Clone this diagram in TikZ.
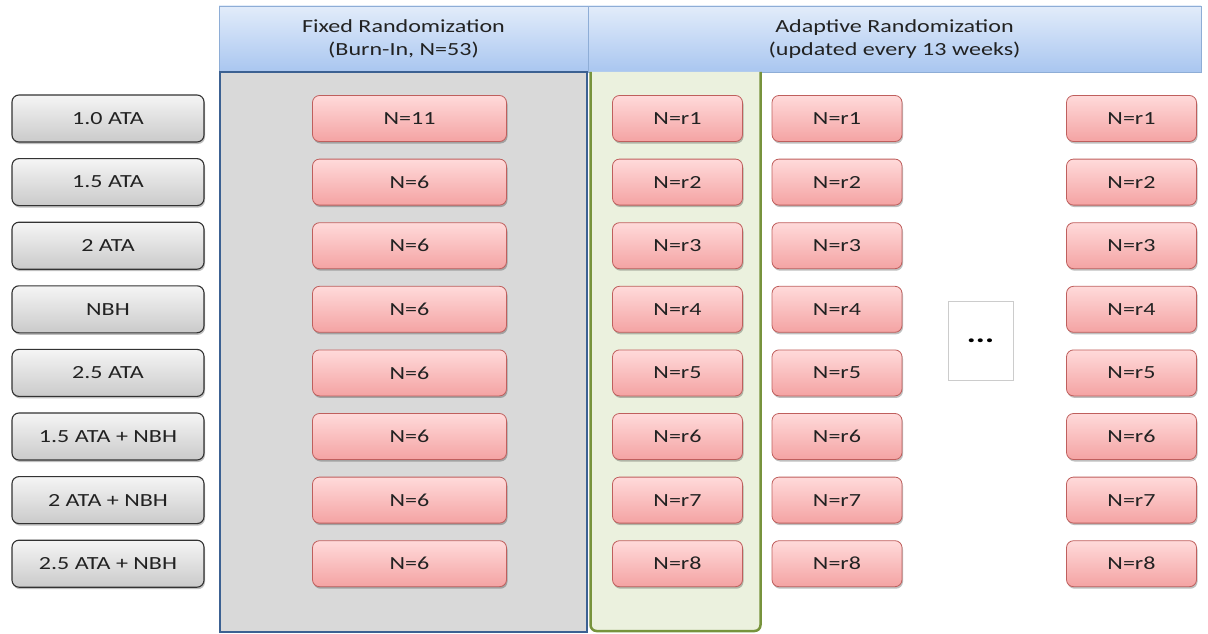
\documentclass[tikz,border=0pt]{standalone}
\usepackage{fontspec}
\setmainfont{Carlito}[FakeStretch=1.3]
\usetikzlibrary{shadows}

\definecolor{txt}{HTML}{222222}
\definecolor{hdrtop}{HTML}{E2ECFA}
\definecolor{hdrbot}{HTML}{A9C6F0}
\definecolor{hdrline}{HTML}{8EADD6}
\definecolor{panelgray}{HTML}{D9D9D9}
\definecolor{panelblue}{HTML}{3C6192}
\definecolor{panelgreen}{HTML}{EBF1DE}
\definecolor{greenline}{HTML}{77933C}
\definecolor{celltop}{HTML}{FFDADA}
\definecolor{cellbot}{HTML}{F4A3A3}
\definecolor{cellline}{HTML}{BF5F5D}
\definecolor{armtop}{HTML}{F5F5F5}
\definecolor{armbot}{HTML}{CACACA}
\definecolor{armline}{HTML}{333333}

\tikzset{
  every node/.style={font=\fontsize{18.5}{19}\selectfont, text=txt},
  softshadow/.style={drop shadow={shadow xshift=1pt, shadow yshift=-2pt, opacity=0.25, fill=black}},
  header/.style={draw=hdrline, line width=0.8pt, top color=hdrtop, bottom color=hdrbot,
                 minimum height=66pt, align=center, inner sep=0pt, font=\fontsize{18.5}{23.5}\selectfont},
  arm/.style={draw=armline, line width=1.1pt, rounded corners=7pt, top color=armtop,
              bottom color=armbot, minimum width=192pt, minimum height=47pt, inner sep=0pt, softshadow},
  cell/.style={draw=cellline, line width=0.8pt, rounded corners=7pt, top color=celltop,
               bottom color=cellbot, minimum height=46pt, inner sep=0pt, softshadow},
  widecell/.style={cell, minimum width=194pt},
  narrowcell/.style={cell, minimum width=130pt},
  dotsbox/.style={draw=black!20, fill=white, line width=0.6pt, minimum width=65pt,
                  minimum height=79pt, inner sep=0pt, font=\fontsize{26}{26}\selectfont\bfseries, text=black},
}

\begin{document}
\begin{tikzpicture}[x=1pt, y=-1pt]
\useasboundingbox (0,0) rectangle (1208,634);

% column headers
\node[header, minimum width=369pt] (hfix) at (403.5,39)
  {Fixed Randomization\\(Burn-In, N=53)};
\node[header, minimum width=613pt] (hada) at (894.5,39)
  {Adaptive Randomization\\(updated every 13 weeks)};

% burn-in panel
\node[draw=panelblue, fill=panelgray, line width=2.8pt, minimum width=367pt,
      minimum height=560pt, inner sep=0pt] (burn) at (403.5,352) {};

% first adaptive period panel
\fill[panelgreen] (590.5,72) -- (590.5,625) arc[start angle=180, end angle=90, radius=6] -- (754.5,631)
  arc[start angle=90, end angle=0, radius=6] -- (760.5,72) -- cycle;
\draw[greenline, line width=2.5pt, rounded corners=6pt] (590.5,72) -- (590.5,631) -- (760.5,631) -- (760.5,72);

% treatment arms and allocations
\foreach \lab/\n [count=\k from 0] in {1.0 ATA/11, 1.5 ATA/6, 2 ATA/6, NBH/6, 2.5 ATA/6,
    1.5 ATA + NBH/6, 2 ATA + NBH/6, 2.5 ATA + NBH/6} {
  \pgfmathsetmacro{\yy}{118.5+63.6*\k}
  \pgfmathtruncatemacro{\r}{\k+1}
  \node[arm] (arm\r) at (108,\yy) {\lab};
  \node[widecell] (fix\r) at (409.5,\yy) {N=\n};
  \node[narrowcell] (upa\r) at (677.5,\yy) {N=r\r};
  \node[narrowcell] (upb\r) at (837,\yy) {N=r\r};
  \node[narrowcell] (upz\r) at (1131.5,\yy) {N=r\r};
}

% further updates
\node[dotsbox] (more) at (980.5,340.5) {...};

\end{tikzpicture}
\end{document}
